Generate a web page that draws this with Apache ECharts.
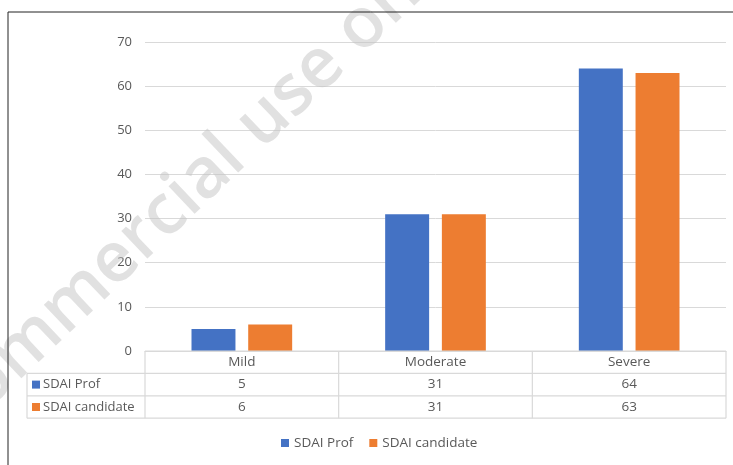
<!DOCTYPE html>
<html>
<head>
<meta charset="utf-8">
<script src="https://cdn.jsdelivr.net/npm/echarts@6/dist/echarts.min.js"></script>
<style>
html,body{margin:0;padding:0;background:#fff;}
#chart{width:733px;height:465px;}
</style>
</head>
<body>
<div id="chart"></div>
<script>
const categories = ['Mild', 'Moderate', 'Severe'];
const seriesNames = ['SDAI Prof', 'SDAI candidate'];
const sdaiProf = [5, 31, 64];
const sdaiCandidate = [6, 31, 63];
const yTicks = { min: 0, max: 70, interval: 10 };
const colors = ['#4472C4', '#ED7D31'];
const watermarkText = 'For non-commercial use only';

const FONT = 'Open Sans';
const TXT = '#595959';
const LINE = '#d9d9d9';

const chart = echarts.init(document.getElementById('chart'), null, { renderer: 'canvas' });

const option = {
  animation: false,
  backgroundColor: '#fff',
  color: colors,
  textStyle: { fontFamily: FONT },
  grid: { left: 145, right: 7, top: 42, bottom: 114, containLabel: false },
  xAxis: {
    type: 'category',
    data: categories,
    axisLine: { show: true, lineStyle: { color: LINE, width: 1 } },
    axisTick: { show: false },
    axisLabel: { show: false }
  },
  yAxis: {
    type: 'value',
    min: yTicks.min, max: yTicks.max, interval: yTicks.interval,
    axisLine: { show: false },
    axisTick: { show: false },
    axisLabel: { color: TXT, fontSize: 13, margin: 13, fontFamily: FONT },
    splitLine: { lineStyle: { color: LINE, width: 1 } }
  },
  legend: {
    bottom: 10,
    left: 276,
    icon: 'rect',
    itemWidth: 8,
    itemHeight: 8,
    itemGap: 16,
    textStyle: { color: TXT, fontSize: 13.5, fontFamily: FONT },
    data: seriesNames
  },
  series: [
    { name: seriesNames[0], type: 'bar', data: sdaiProf, barWidth: '22.7%', barGap: '29%', z: 3 },
    { name: seriesNames[1], type: 'bar', data: sdaiCandidate, barWidth: '22.7%', barGap: '29%', z: 3 }
  ]
};
chart.setOption(option);

function buildTable() {
  const c0 = chart.convertToPixel({ xAxisIndex: 0 }, 0);
  const c1 = chart.convertToPixel({ xAxisIndex: 0 }, 1);
  const band = c1 - c0;
  const y0 = chart.convertToPixel({ yAxisIndex: 0 }, 0);
  const left = c0 - band / 2;
  const right = c0 + band * (categories.length - 0.5);
  const rowH = 22.4;
  const labelLeft = 27;
  const els = [];
  const line = (x1, y1, x2, y2) => els.push({ type: 'line', shape: { x1, y1, x2, y2 }, style: { stroke: LINE, lineWidth: 1.2 }, z: 5 });
  line(left, y0, right, y0);
  for (let r = 1; r <= 3; r++) line(labelLeft, y0 + rowH * r, right, y0 + rowH * r);
  line(labelLeft, y0 + rowH, labelLeft, y0 + rowH * 3);
  for (let i = 0; i <= categories.length; i++) {
    const x = left + band * i;
    line(x, y0, x, y0 + rowH * 3);
  }
  const rows = [sdaiProf, sdaiCandidate];
  categories.forEach((cat, i) => {
    const cx = c0 + band * i;
    els.push({ type: 'text', x: cx, y: y0 + rowH * 0.5, style: { text: cat, fill: TXT, font: '13.5px "' + FONT + '"', align: 'center', verticalAlign: 'middle' }, z: 6 });
    rows.forEach((vals, r) => {
      els.push({ type: 'text', x: cx, y: y0 + rowH * (r + 1.5), style: { text: String(vals[i]), fill: TXT, font: '13.5px "' + FONT + '"', align: 'center', verticalAlign: 'middle' }, z: 6 });
    });
  });
  seriesNames.forEach((name, r) => {
    const cy = y0 + rowH * (r + 1.5);
    els.push({ type: 'rect', shape: { x: 32, y: cy - 4, width: 8, height: 8 }, style: { fill: colors[r] }, z: 6 });
    els.push({ type: 'text', x: 43, y: cy, style: { text: name, fill: TXT, font: '13px "' + FONT + '"', align: 'left', verticalAlign: 'middle' }, z: 6 });
  });
  els.push({ type: 'line', shape: { x1: 8, y1: 12, x2: 733, y2: 12 }, style: { stroke: '#222', lineWidth: 1 }, z: 7 });
  els.push({ type: 'line', shape: { x1: 8, y1: 12, x2: 8, y2: 465 }, style: { stroke: '#222', lineWidth: 1 }, z: 7 });
  els.push({ type: 'text', x: 97, y: 279, rotation: 43.5 * Math.PI / 180, style: { text: watermarkText, fill: 'rgba(195,195,195,0.5)', font: '600 70px "' + FONT + '"', align: 'center', verticalAlign: 'middle' }, z: 1, silent: true });
  chart.setOption({ graphic: { elements: els } });
}
buildTable();
</script>
</body>
</html>
